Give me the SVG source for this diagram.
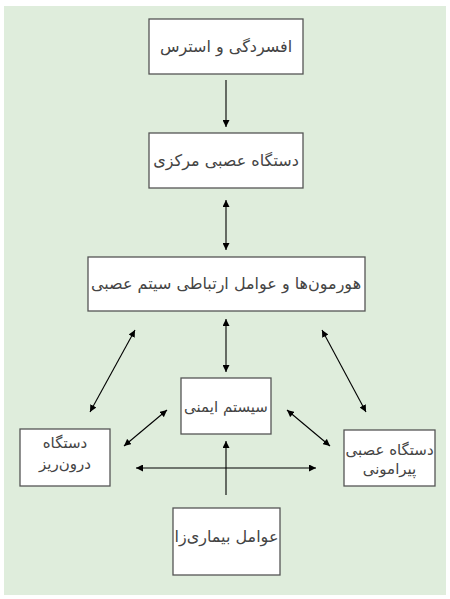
<svg xmlns="http://www.w3.org/2000/svg" width="450" height="599" viewBox="0 0 450 599">
<defs>
<marker id="ah" viewBox="0 0 10 10" refX="10" refY="5" markerWidth="7" markerHeight="7" orient="auto-start-reverse" markerUnits="userSpaceOnUse">
<path d="M0,0 L10,5 L0,10 z" fill="#000"/>
</marker>
<style>
.box{fill:#fff;stroke:#555;stroke-width:1.3}
.t{font-family:"DejaVu Sans","Noto Sans",sans-serif;font-size:16px;fill:#444;text-anchor:middle;direction:rtl}
.s{font-size:15px}
.c{stroke:#000;stroke-width:1.1;fill:none}
</style>
</defs>
<rect width="450" height="599" fill="#fff"/>
<rect x="4" y="6" width="442" height="589" fill="#dfeddc"/>
<g id="connectors">
<line class="c" x1="226" y1="80" x2="226" y2="127" marker-end="url(#ah)"/>
<line class="c" x1="226" y1="200" x2="226" y2="250" marker-start="url(#ah)" marker-end="url(#ah)"/>
<line class="c" x1="226" y1="319" x2="226" y2="372" marker-start="url(#ah)" marker-end="url(#ah)"/>
<line class="c" x1="135" y1="330" x2="90" y2="412" marker-start="url(#ah)" marker-end="url(#ah)"/>
<line class="c" x1="322" y1="330" x2="366" y2="412" marker-start="url(#ah)" marker-end="url(#ah)"/>
<line class="c" x1="124" y1="446" x2="167" y2="410" marker-start="url(#ah)" marker-end="url(#ah)"/>
<line class="c" x1="287" y1="410" x2="330" y2="446" marker-start="url(#ah)" marker-end="url(#ah)"/>
<line class="c" x1="136" y1="468" x2="316" y2="468" marker-start="url(#ah)" marker-end="url(#ah)"/>
<line class="c" x1="226" y1="495" x2="226" y2="441" marker-end="url(#ah)"/>
</g>
<g id="n1"><rect class="box" x="149" y="19" width="154" height="55"/><text class="t" x="226" y="52">افسردگی و استرس</text></g>
<g id="n2"><rect class="box" x="149" y="133" width="154" height="55"/><text class="t" x="226" y="166">دستگاه عصبی مرکزی</text></g>
<g id="n3"><rect class="box" x="88" y="257" width="277" height="54"/><text class="t" x="226" y="289">هورمون‌ها و عوامل ارتباطی سیتم عصبی</text></g>
<g id="n4"><rect class="box" x="181" y="378" width="90" height="56"/><text class="t s" x="226" y="412">سیستم ایمنی</text></g>
<g id="n5"><rect class="box" x="20" y="429" width="90" height="57"/><text class="t s" x="65" y="448">دستگاه</text><text class="t s" x="65" y="469">درون‌ریز</text></g>
<g id="n6"><rect class="box" x="344" y="430" width="91" height="56"/><text class="t s" x="389.5" y="455">دستگاه عصبی</text><text class="t s" x="389.5" y="474">پیرامونی</text></g>
<g id="n7"><rect class="box" x="173" y="508" width="107" height="67"/><text class="t" x="226.5" y="542">عوامل بیماری‌زا</text></g>
</svg>
